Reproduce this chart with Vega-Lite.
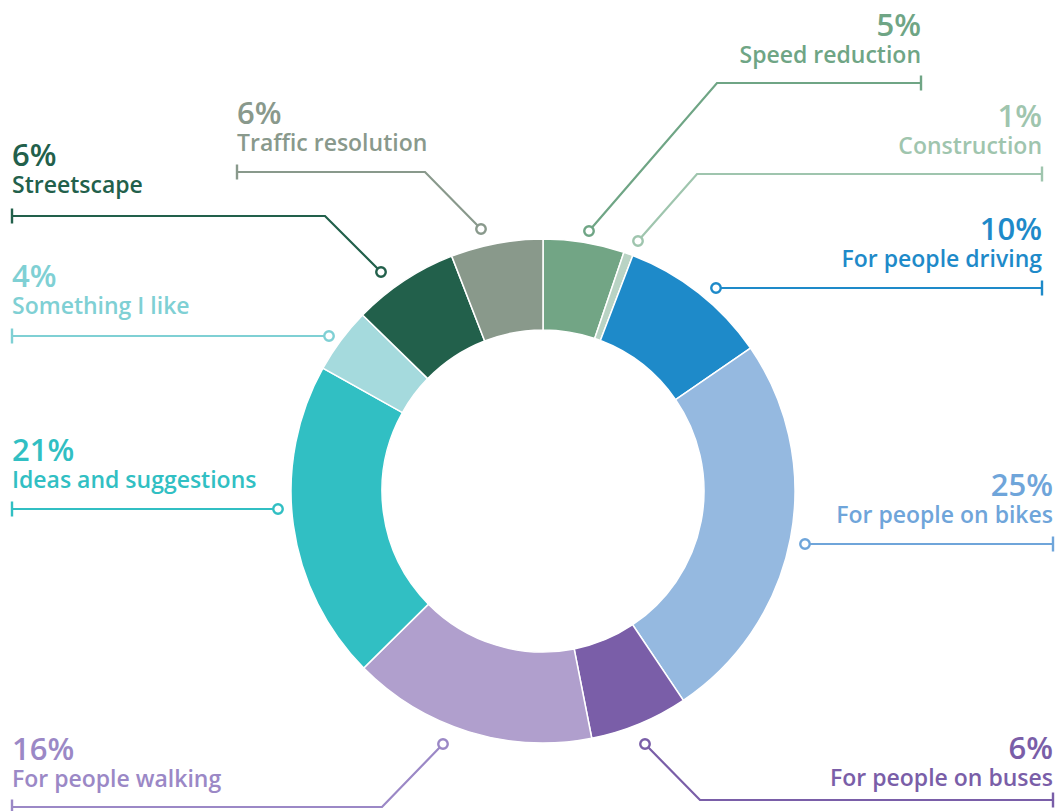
{
  "$schema": "https://vega.github.io/schema/vega-lite/v6.json",
  "width": 1032,
  "height": 640,
  "autosize": "none",
  "padding": {"left": 27, "top": 171, "right": 0, "bottom": 0},
  "background": "#ffffff",
  "config": {"view": {"stroke": null}},
  "datasets": {
    "slices": [
      {"category": "Speed reduction", "value": 5.2, "order": 1},
      {"category": "Construction", "value": 0.6, "order": 2},
      {"category": "For people driving", "value": 9.6, "order": 3},
      {"category": "For people on bikes", "value": 25.2, "order": 4},
      {"category": "For people on buses", "value": 6.3, "order": 5},
      {"category": "For people walking", "value": 15.7, "order": 6},
      {"category": "Ideas and suggestions", "value": 20.5, "order": 7},
      {"category": "Something I like", "value": 4.2, "order": 8},
      {"category": "Streetscape", "value": 6.8, "order": 9},
      {"category": "Traffic resolution", "value": 5.9, "order": 10}
    ],
    "leaders": [
      {"category": "Speed reduction", "step": 1, "point": "dot", "x": 46, "y": 260},
      {"category": "Speed reduction", "step": 2, "point": "bend", "x": 174, "y": 408},
      {"category": "Speed reduction", "step": 3, "point": "end", "x": 378, "y": 408},
      {"category": "Construction", "step": 1, "point": "dot", "x": 95, "y": 250},
      {"category": "Construction", "step": 2, "point": "bend", "x": 154, "y": 317},
      {"category": "Construction", "step": 3, "point": "end", "x": 499, "y": 317},
      {"category": "For people driving", "step": 1, "point": "dot", "x": 173, "y": 203},
      {"category": "For people driving", "step": 3, "point": "end", "x": 499, "y": 203},
      {"category": "For people on bikes", "step": 1, "point": "dot", "x": 262, "y": -53},
      {"category": "For people on bikes", "step": 3, "point": "end", "x": 510, "y": -53},
      {"category": "For people on buses", "step": 1, "point": "dot", "x": 102, "y": -253},
      {"category": "For people on buses", "step": 2, "point": "bend", "x": 157, "y": -309},
      {"category": "For people on buses", "step": 3, "point": "end", "x": 510, "y": -309},
      {"category": "For people walking", "step": 1, "point": "dot", "x": -100, "y": -253},
      {"category": "For people walking", "step": 2, "point": "bend", "x": -161, "y": -316},
      {"category": "For people walking", "step": 3, "point": "end", "x": -531, "y": -316},
      {"category": "Ideas and suggestions", "step": 1, "point": "dot", "x": -265, "y": -18},
      {"category": "Ideas and suggestions", "step": 3, "point": "end", "x": -531, "y": -18},
      {"category": "Something I like", "step": 1, "point": "dot", "x": -214, "y": 155},
      {"category": "Something I like", "step": 3, "point": "end", "x": -531, "y": 155},
      {"category": "Streetscape", "step": 1, "point": "dot", "x": -162, "y": 219},
      {"category": "Streetscape", "step": 2, "point": "bend", "x": -218, "y": 275},
      {"category": "Streetscape", "step": 3, "point": "end", "x": -531, "y": 275},
      {"category": "Traffic resolution", "step": 1, "point": "dot", "x": -62, "y": 262},
      {"category": "Traffic resolution", "step": 2, "point": "bend", "x": -118, "y": 319},
      {"category": "Traffic resolution", "step": 3, "point": "end", "x": -306, "y": 319}
    ],
    "labels": [
      {"category": "Speed reduction", "pct": "5%", "side": "right", "x": 378, "y": 428},
      {"category": "Construction", "pct": "1%", "side": "right", "x": 499, "y": 337},
      {"category": "For people driving", "pct": "10%", "side": "right", "x": 499, "y": 224},
      {"category": "For people on bikes", "pct": "25%", "side": "right", "x": 510, "y": -32},
      {"category": "For people on buses", "pct": "6%", "side": "right", "x": 510, "y": -295},
      {"category": "For people walking", "pct": "16%", "side": "left", "x": -531, "y": -296},
      {"category": "Ideas and suggestions", "pct": "21%", "side": "left", "x": -531, "y": 3},
      {"category": "Something I like", "pct": "4%", "side": "left", "x": -531, "y": 177},
      {"category": "Streetscape", "pct": "6%", "side": "left", "x": -531, "y": 298},
      {"category": "Traffic resolution", "pct": "6%", "side": "left", "x": -306, "y": 340}
    ]
  },
  "layer": [
    {
      "data": {"name": "slices"},
      "mark": {"type": "arc", "radius": 252, "innerRadius": 161, "stroke": "#ffffff", "strokeWidth": 1.5},
      "encoding": {
        "theta": {"field": "value", "type": "quantitative", "stack": true},
        "order": {"field": "order", "type": "quantitative"},
        "color": {
          "field": "category",
          "type": "nominal",
          "legend": null,
          "scale": {
            "domain": ["Speed reduction", "Construction", "For people driving", "For people on bikes", "For people on buses", "For people walking", "Ideas and suggestions", "Something I like", "Streetscape", "Traffic resolution"],
            "range": ["#72a585", "#b9d3c4", "#1e8ac9", "#95b9e0", "#7a5ea8", "#b09fcd", "#31bfc3", "#a5dadd", "#22604b", "#89998b"]
          }
        }
      }
    },
    {
      "layer": [
        {
          "data": {"name": "leaders"},
          "mark": {"type": "line", "strokeWidth": 2.2},
          "encoding": {
            "x": {"field": "x", "type": "quantitative", "scale": {"domain": [-516, 516], "nice": false, "zero": false}, "axis": null},
            "y": {"field": "y", "type": "quantitative", "scale": {"domain": [-320, 320], "nice": false, "zero": false}, "axis": null},
            "order": {"field": "step", "type": "quantitative"},
            "detail": {"field": "category"},
            "color": {"field": "category", "type": "nominal", "legend": null}
          }
        },
        {
          "data": {"name": "leaders"},
          "transform": [{"filter": "datum.point == 'end'"}],
          "mark": {"type": "point", "shape": "M0,-1L0,1", "size": 225, "strokeWidth": 2.4, "filled": false, "opacity": 1},
          "encoding": {
            "x": {"field": "x", "type": "quantitative"},
            "y": {"field": "y", "type": "quantitative"},
            "color": {"field": "category", "type": "nominal", "legend": null}
          }
        },
        {
          "data": {"name": "leaders"},
          "transform": [{"filter": "datum.point == 'dot'"}],
          "mark": {"type": "point", "shape": "circle", "size": 90, "strokeWidth": 2.4, "filled": true, "fill": "#ffffff", "opacity": 1, "fillOpacity": 1, "strokeOpacity": 1},
          "encoding": {
            "x": {"field": "x", "type": "quantitative"},
            "y": {"field": "y", "type": "quantitative"},
            "stroke": {
              "field": "category",
              "type": "nominal",
              "legend": null,
              "scale": {
                "domain": ["Speed reduction", "Construction", "For people driving", "For people on bikes", "For people on buses", "For people walking", "Ideas and suggestions", "Something I like", "Streetscape", "Traffic resolution"],
                "range": ["#6fa585", "#9fc5ae", "#1e8ac9", "#6fa5da", "#7a5ea8", "#9b88c6", "#31bfc3", "#7fd0d4", "#22604b", "#89998c"]
              }
            }
          }
        },
        {
          "data": {"name": "labels"},
          "transform": [{"filter": "datum.side == 'right'"}],
          "mark": {"type": "text", "align": "right", "baseline": "alphabetic", "font": "Open Sans", "fontSize": 23, "fontWeight": 600},
          "encoding": {
            "x": {"field": "x", "type": "quantitative"},
            "y": {"field": "y", "type": "quantitative"},
            "text": {"field": "category"},
            "color": {"field": "category", "type": "nominal", "legend": null}
          }
        },
        {
          "data": {"name": "labels"},
          "transform": [{"filter": "datum.side == 'left'"}],
          "mark": {"type": "text", "align": "left", "baseline": "alphabetic", "font": "Open Sans", "fontSize": 23, "fontWeight": 600},
          "encoding": {
            "x": {"field": "x", "type": "quantitative"},
            "y": {"field": "y", "type": "quantitative"},
            "text": {"field": "category"},
            "color": {"field": "category", "type": "nominal", "legend": null}
          }
        },
        {
          "data": {"name": "labels"},
          "transform": [{"filter": "datum.side == 'right'"}],
          "mark": {"type": "text", "align": "right", "baseline": "alphabetic", "font": "Open Sans", "fontSize": 31, "fontWeight": 600, "dy": -27},
          "encoding": {
            "x": {"field": "x", "type": "quantitative"},
            "y": {"field": "y", "type": "quantitative"},
            "text": {"field": "pct"},
            "color": {"field": "category", "type": "nominal", "legend": null}
          }
        },
        {
          "data": {"name": "labels"},
          "transform": [{"filter": "datum.side == 'left'"}],
          "mark": {"type": "text", "align": "left", "baseline": "alphabetic", "font": "Open Sans", "fontSize": 31, "fontWeight": 600, "dy": -27},
          "encoding": {
            "x": {"field": "x", "type": "quantitative"},
            "y": {"field": "y", "type": "quantitative"},
            "text": {"field": "pct"},
            "color": {"field": "category", "type": "nominal", "legend": null}
          }
        }
      ],
      "encoding": {
        "color": {
          "field": "category",
          "type": "nominal",
          "legend": null,
          "scale": {
            "domain": ["Speed reduction", "Construction", "For people driving", "For people on bikes", "For people on buses", "For people walking", "Ideas and suggestions", "Something I like", "Streetscape", "Traffic resolution"],
            "range": ["#6fa585", "#9fc5ae", "#1e8ac9", "#6fa5da", "#7a5ea8", "#9b88c6", "#31bfc3", "#7fd0d4", "#22604b", "#89998c"]
          }
        }
      }
    }
  ],
  "resolve": {"scale": {"color": "independent"}}
}
